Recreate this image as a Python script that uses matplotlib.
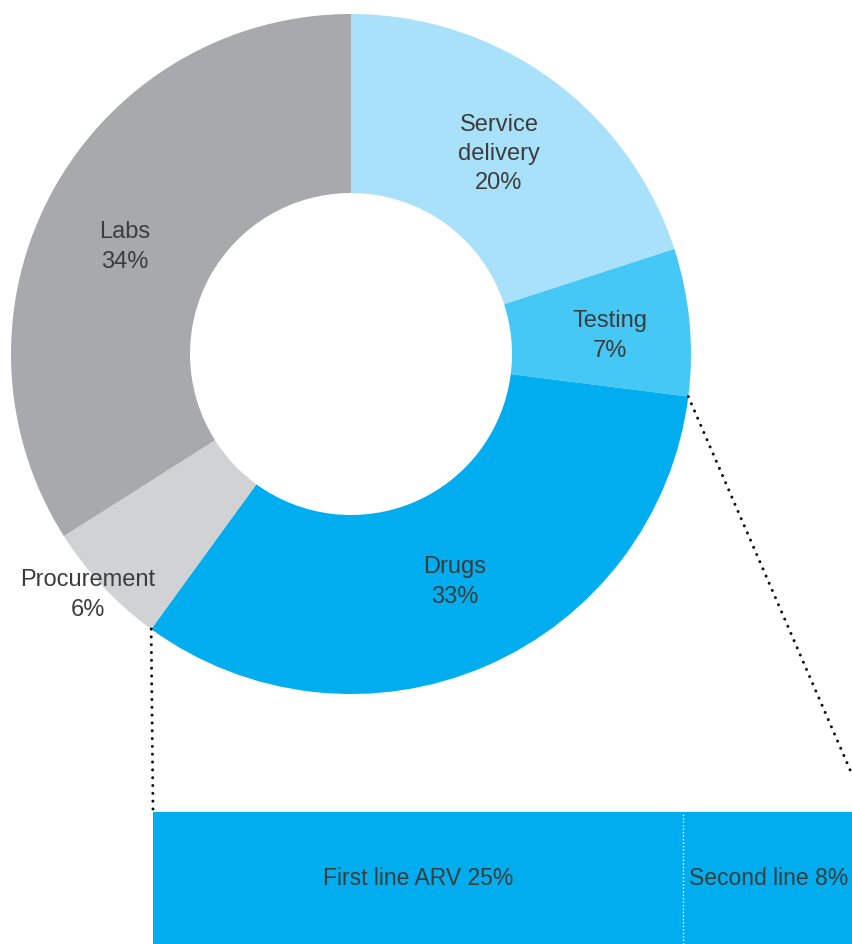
import numpy as np
import matplotlib
matplotlib.use("Agg")
import matplotlib.pyplot as plt

# spending split (percent)
categories = ["Service\ndelivery", "Testing", "Drugs", "Procurement", "Labs"]
shares = [20, 7, 33, 6, 34]
colors = ["#a9e1fa", "#45c8f5", "#00aeef", "#d1d2d4", "#a7a9ac"]

# drugs breakdown
drug_parts = ["First line ARV", "Second line"]
drug_shares = [25, 8]

plt.rcParams['font.family'] = ['Liberation Sans', 'DejaVu Sans']
txt = "#3c3c3c"
fs = 17

W, H = 853, 945
fig = plt.figure(figsize=(W / 100, H / 100), dpi=100)
ax = fig.add_axes([0, 0, 1, 1])

cx, cy, R, r = 351, H - 355, 340, 161
ax.pie(shares, colors=colors, startangle=90, counterclock=False,
       center=(cx, cy), radius=R, frame=True,
       wedgeprops=dict(width=R - r, linewidth=0))
ax.set_xlim(0, W)
ax.set_ylim(0, H)
ax.set_aspect('equal')
ax.axis('off')

# label positions (pixels from top-left)
label_pos = [(499, 154), (610, 336), (455, 582), (88, 595), (125, 247)]
for name, val, (x, y) in zip(categories, shares, label_pos):
    ax.text(x, H - y, f"{name}\n{val}%", ha='center', va='center',
            fontsize=fs, color=txt, linespacing=1.42)

# breakdown bar
bar_top = 132
bax = fig.add_axes([153 / W, 0, 1 - 153 / W, bar_top / H])
bax.set_xlim(0, sum(drug_shares))
bax.set_ylim(0, 1)
bax.axis('off')
left = 0
for name, val in zip(drug_parts, drug_shares):
    bax.barh(0.5, val, left=left, height=1, color="#00aeef", linewidth=0)
    bax.text(left + val / 2, 0.5, f"{name} {val}%", ha='center', va='center',
             fontsize=16.5, color=txt)
    left += val
bax.plot([drug_shares[0]] * 2, [0, 1], color='white', lw=1, ls=(0, (1, 1.5)))

# dotted connectors from drugs wedge edges
cum = np.cumsum([0] + shares)
a_start = np.deg2rad(cum[2] / 100 * 360)   # testing/drugs boundary
a_end = np.deg2rad(cum[3] / 100 * 360)     # drugs/procurement boundary
p1 = (cx + R * np.sin(a_end), cy + R * np.cos(a_end))
p2 = (cx + R * np.sin(a_start), cy + R * np.cos(a_start))
dots = dict(color="#111111", lw=2.2, ls=(0, (0.01, 2.55)), dash_capstyle='round')
ax.plot([p1[0], 153], [p1[1], bar_top + 3], **dots)
ax.plot([p2[0], 867], [p2[1], bar_top + 3], **dots)

fig.savefig("out.png", dpi=100)
